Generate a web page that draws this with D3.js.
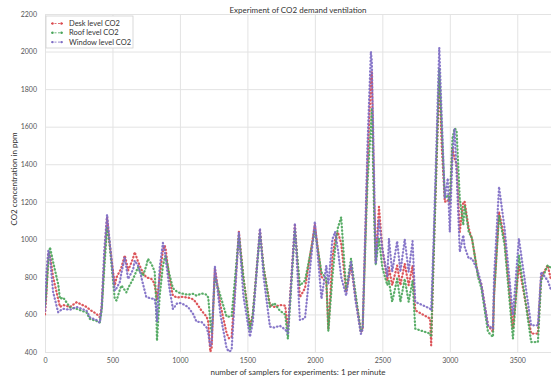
<html>

<head>
    <title>Experiment of CO2 demand ventilation</title>
    <script src="https://d3js.org/d3.v7.min.js"></script>
    <style>
        body { margin: 0; background: #fff; }
        text { font-family: Lato, "Open Sans", sans-serif; }
    </style>
</head>

<body>
    <div id="chart"></div>
    <script>
        var samples = [0, 10, 25, 37, 60, 98, 111, 135, 185, 234, 308, 333, 382, 406, 420, 440, 460, 475,
            517, 530, 554, 566, 591, 603, 616, 653, 665, 690, 702, 727, 751, 763, 788, 800, 813, 822, 830,
            850, 874, 887, 894, 920, 948, 980, 1010, 1060, 1100, 1123, 1160, 1198, 1210, 1225, 1235, 1259,
            1300, 1346, 1363, 1383, 1437, 1470, 1519, 1540, 1593, 1620, 1667, 1700, 1740, 1780, 1800, 1852,
            1889, 1927, 2000, 2049, 2085, 2100, 2130, 2150, 2170, 2195, 2232, 2268, 2300, 2341, 2354, 2390,
            2415, 2422, 2440, 2451, 2475, 2500, 2537, 2549, 2573, 2610, 2634, 2666, 2695, 2724, 2744, 2854,
            2862, 2880, 2922, 2940, 2963, 2985, 3000, 3020, 3035, 3050, 3074, 3100, 3110, 3140, 3165, 3209,
            3234, 3283, 3320, 3328, 3365, 3406, 3468, 3512, 3603, 3653, 3677, 3726, 3750];

        var desk = [600, 700, 930, 920, 800, 680, 640, 650, 640, 665, 640, 625, 603, 585, 640, 900, 1118, 1000,
            754, 798, 830, 850, 914, 880, 834, 900, 932, 880, 860, 820, 798, 795, 789, 780, 754, 720, 680,
            800, 940, 967, 950, 800, 700, 690, 694, 690, 680, 660, 620, 588, 560, 401, 420, 845,
            650, 500, 473, 480, 1040, 800, 535, 600, 1049, 850, 650, 640, 650, 647, 520, 1076,
            692, 740, 1077, 800, 770, 520, 900, 1000, 1038, 980, 720, 860, 700, 505, 520, 1400,
            1850, 1890, 1200, 880, 1173, 950, 780, 850, 756, 860, 756, 870, 756, 860, 622, 578,
            435, 900, 1858, 1500, 1200, 1210, 1190, 1485, 1431, 1400, 1040, 1200, 1200, 1059, 1000, 810,
            760, 542, 507, 700, 1147, 1000, 524, 862, 498, 498, 800, 862, 783];

        var roof = [650, 720, 880, 958, 880, 760, 683, 690, 638, 630, 610, 576, 565, 558, 620, 850, 1060, 1000,
            683, 674, 730, 754, 730, 718, 740, 789, 810, 852, 830, 807, 860, 896, 870, 852, 825, 700, 460,
            700, 860, 900, 914, 820, 740, 720, 712, 705, 710, 700, 712, 705, 690, 560, 500, 800,
            700, 588, 588, 590, 1020, 800, 517, 600, 1031, 850, 641, 660, 620, 600, 470, 1049,
            754, 780, 1047, 825, 790, 510, 800, 950, 1060, 1118, 730, 898, 720, 507, 530, 1300,
            1600, 1700, 1100, 862, 1005, 850, 756, 780, 667, 790, 667, 790, 667, 780, 524, 498,
            480, 900, 1911, 1600, 1220, 1236, 1200, 1538, 1591, 1581, 1218, 1076, 1183, 1040, 1005, 800,
            740, 507, 480, 700, 1129, 969, 471, 916, 453, 453, 780, 862, 847];

        var windowLevel = [620, 820, 940, 900, 720, 611, 620, 630, 625, 640, 620, 585, 570, 555, 640, 950, 1132, 1020,
            727, 740, 772, 820, 905, 850, 789, 840, 887, 860, 834, 760, 692, 690, 685, 684, 683, 640, 560,
            850, 981, 940, 900, 750, 629, 660, 660, 640, 600, 561, 560, 530, 500, 428, 450, 857,
            600, 420, 402, 410, 1040, 700, 481, 560, 1058, 800, 535, 530, 540, 520, 500, 1085,
            570, 580, 1095, 683, 860, 760, 1000, 1040, 950, 800, 700, 880, 680, 496, 520, 1500,
            2000, 1950, 1300, 870, 1102, 950, 800, 1004, 827, 990, 827, 1000, 827, 990, 667, 631,
            620, 1000, 2021, 1650, 1220, 1325, 1040, 1450, 1590, 1360, 933, 1022, 960, 898, 898, 827,
            760, 542, 524, 800, 1280, 1058, 596, 1004, 542, 542, 827, 780, 730];

        var seriesNames = ["Desk level CO2", "Roof level CO2", "Window level CO2"];
        var seriesColors = ["#d9474c", "#4aa55a", "#7d6cc4"];
        var xTicks = [0, 500, 1000, 1500, 2000, 2500, 3000, 3500];
        var yTicks = [400, 600, 800, 1000, 1200, 1400, 1600, 1800, 2000, 2200];

        var width = 551,
            height = 383;
        var plotLeft = 45,
            plotRight = 551,
            plotTop = 14,
            plotBottom = 352;

        var x = d3.scaleLinear().domain([0, 3750]).range([plotLeft, plotRight]);
        var y = d3.scaleLinear().domain([400, 2200]).range([plotBottom, plotTop]);

        var svg = d3.select("#chart").append("svg")
            .attr("width", width)
            .attr("height", height);

        svg.append("clipPath").attr("id", "plotclip")
            .append("rect")
            .attr("x", plotLeft).attr("y", plotTop - 2)
            .attr("width", plotRight - plotLeft).attr("height", plotBottom - plotTop + 4);

        // grid + tick labels
        var gx = svg.append("g")
            .attr("transform", "translate(0," + plotBottom + ")")
            .call(d3.axisBottom(x).tickValues(xTicks).tickSize(-(plotBottom - plotTop)).tickPadding(6).tickFormat(d3.format("d")));
        var gy = svg.append("g")
            .attr("transform", "translate(" + plotLeft + ",0)")
            .call(d3.axisLeft(y).tickValues(yTicks).tickSize(-(plotRight - plotLeft)).tickPadding(8).tickFormat(d3.format("d")));

        [gx, gy].forEach(function(g) {
            g.select(".domain").remove();
            g.selectAll(".tick line").attr("stroke", "#e3e3e3").attr("stroke-width", 1);
            g.selectAll(".tick text").attr("fill", "#555").style("font-size", "7px");
        });

        var series = [desk, roof, windowLevel];
        var plot = svg.append("g").attr("clip-path", "url(#plotclip)");

        series.forEach(function(vals, i) {
            var line = d3.line()
                .x(function(d, j) { return x(samples[j]); })
                .y(function(d) { return y(d); });

            // thin dashed line
            plot.append("path")
                .datum(vals)
                .attr("d", line)
                .attr("fill", "none")
                .attr("stroke", seriesColors[i])
                .attr("stroke-width", 0.6)
                .attr("stroke-dasharray", "2,1.5")
                .attr("opacity", 0.8);

            // dense point markers
            plot.append("path")
                .datum(vals)
                .attr("d", line)
                .attr("fill", "none")
                .attr("stroke", seriesColors[i])
                .attr("stroke-width", 2.3)
                .attr("stroke-linecap", "round")
                .attr("stroke-linejoin", "round")
                .attr("stroke-dasharray", "0.3,3.2")
                .attr("opacity", 0.9);
        });

        // legend
        var legend = svg.append("g");
        legend.append("rect")
            .attr("x", 46).attr("y", 16)
            .attr("width", 87).attr("height", 32)
            .attr("fill", "#fff")
            .attr("stroke", "#d0d0d0")
            .attr("stroke-width", 0.8);

        seriesNames.forEach(function(name, i) {
            var ly = 23.5 + i * 9.3;
            legend.append("line")
                .attr("x1", 51).attr("x2", 63)
                .attr("y1", ly).attr("y2", ly)
                .attr("stroke", seriesColors[i])
                .attr("stroke-width", 0.8)
                .attr("stroke-dasharray", "2,1.5");
            [52.5, 61.5].forEach(function(cx) {
                legend.append("circle")
                    .attr("cx", cx).attr("cy", ly).attr("r", 1.2)
                    .attr("fill", seriesColors[i]);
            });
            legend.append("text")
                .attr("x", 69).attr("y", ly)
                .attr("dy", "0.35em")
                .style("font-size", "7.5px")
                .attr("fill", "#333")
                .text(name);
        });

        // titles
        svg.append("text")
            .attr("x", 298).attr("y", 12.5)
            .attr("text-anchor", "middle")
            .style("font-size", "8px")
            .attr("fill", "#333")
            .text("Experiment of CO2 demand ventilation");

        svg.append("text")
            .attr("x", 298).attr("y", 375)
            .attr("text-anchor", "middle")
            .style("font-size", "8px")
            .attr("fill", "#333")
            .text("number of samplers for experiments: 1 per minute");

        svg.append("text")
            .attr("transform", "translate(17,179) rotate(-90)")
            .attr("text-anchor", "middle")
            .style("font-size", "8px")
            .attr("fill", "#333")
            .text("CO2 concentration in ppm");
    </script>
</body>

</html>
